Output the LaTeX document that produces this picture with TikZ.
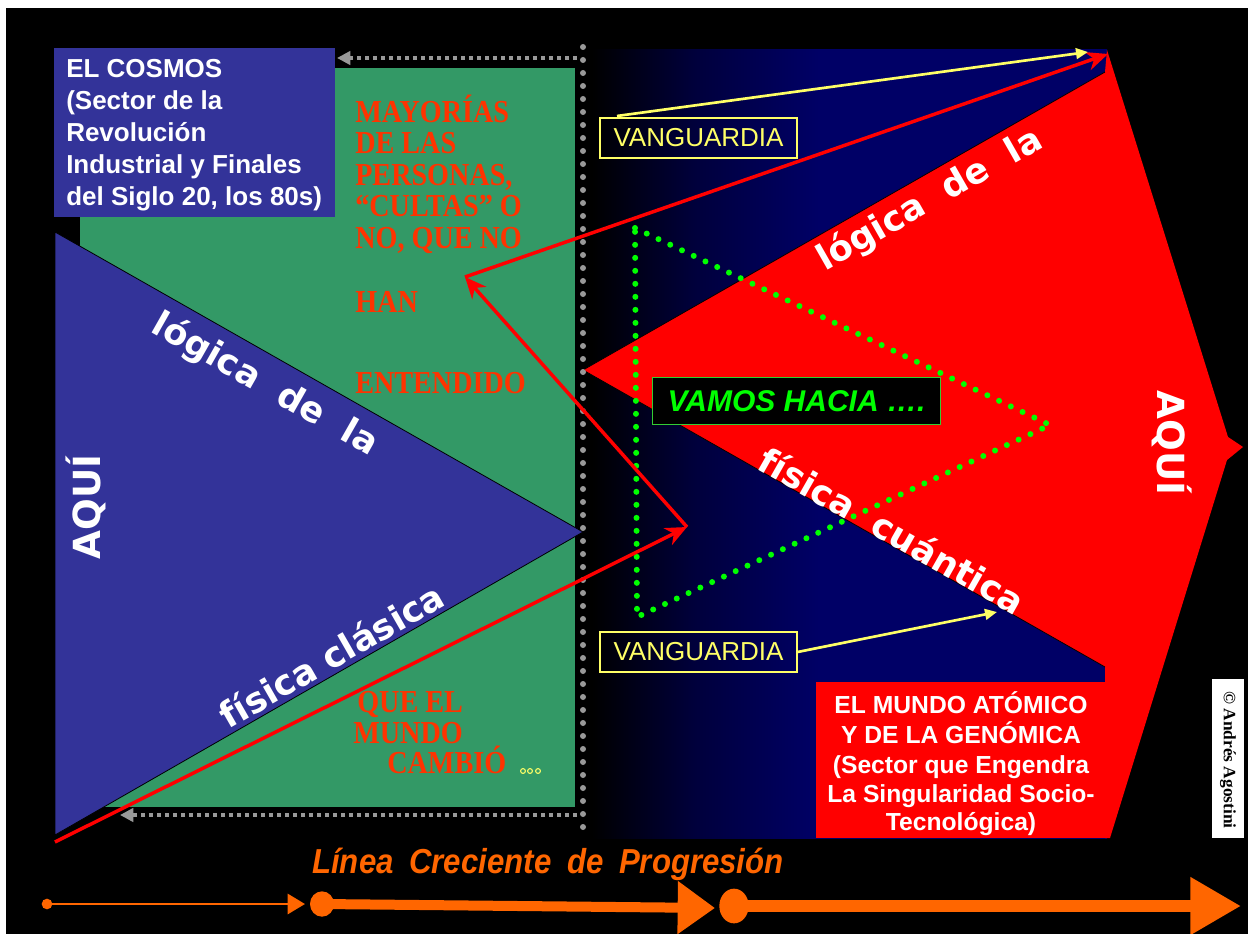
\documentclass[tikz,border=0pt]{standalone}
\usepackage{fontspec}
\usepackage{graphicx}
\setmainfont{Liberation Sans}
\newfontfamily\vfont{DejaVu Sans}
\newfontfamily\serifx{Liberation Serif}
\usetikzlibrary{arrows.meta}
\definecolor{cosmos}{HTML}{333399}
\definecolor{grn}{HTML}{339966}
\definecolor{navy}{HTML}{000066}
\definecolor{midnavy}{HTML}{00003C}
\definecolor{redd}{HTML}{FF0000}
\definecolor{orng}{HTML}{FF6600}
\definecolor{txtred}{HTML}{FF3300}
\definecolor{ylw}{HTML}{FFFF66}
\definecolor{dotgrey}{HTML}{999999}
\definecolor{dotgreen}{HTML}{00FF00}
\definecolor{boxgreen}{HTML}{33CC33}
\pgfdeclarehorizontalshading{navyshade}{100bp}{color(0bp)=(black); color(25bp)=(black); color(35bp)=(midnavy); color(47bp)=(navy); color(100bp)=(navy)}
\newcommand\hsq[1]{\scalebox{0.88}[1]{#1}}
\newcommand\hnar[1]{\scalebox{0.9}[1]{#1}}
\tikzset{
  curl/.style={text=txtred, font=\serifx\bfseries\fontsize{24}{24}\selectfont, anchor=base west, inner sep=0pt},
  rot/.style={text=white, font=\vfont\bfseries\fontsize{26.5}{26}\selectfont, inner sep=0pt},
  cosmostxt/.style={text=white, font=\bfseries\fontsize{19.5}{24}\selectfont, anchor=base west, inner sep=0pt},
  mundotxt/.style={text=white, font=\bfseries\fontsize{18.5}{22}\selectfont, anchor=base, inner sep=0pt},
  vbox/.style={draw=ylw, line width=0.8pt, text=ylw, font=\fontsize{19.5}{20}\selectfont, minimum width=147.75pt, minimum height=30pt, inner sep=0pt},
  redarr/.style={draw=redd, line width=2.6pt, -{Stealth[length=16pt,width=14pt,inset=5pt]}},
  ylwarr/.style={draw=ylw, line width=2pt, -{Triangle[length=9pt,width=8pt]}},
  gdots/.style={dotgreen, line width=4.5pt, line cap=round, dash pattern=on 0pt off 9.75pt},
  greydots/.style={dotgrey, line width=4.5pt, line cap=round, dash pattern=on 0pt off 9.75pt},
  greysq/.style={dotgrey, line width=3pt, dash pattern=on 3pt off 3pt, -{Triangle[length=10pt,width=10pt]}},
}
\begin{document}
\begin{tikzpicture}[x=0.75pt,y=-0.75pt]
\useasboundingbox (0,0) rectangle (1248,934);
\fill[white] (0,0) rectangle (1248,934);
\fill[black] (6,8) rectangle (1248,934);

% left sector
\fill[grn] (80,68) rectangle (575,807);
\fill[cosmos] (54,48) rectangle (335,217);
\filldraw[fill=cosmos, draw=black, line width=0.6pt] (55,232) -- (583,532) -- (55,835) -- cycle;

% right sector
\shade[shading=navyshade] (592,50) rectangle (1107,838);
\fill[redd] (583,370) -- (1105,72) -- (1107,50) -- (1228,437) -- (1243,447) -- (1227,460) -- (1110,838) -- (1105,838) -- (1105,667) -- cycle;
\draw[black, line width=0.6pt] (1105,72) -- (583,370) -- (1105,667);
\fill[redd] (816,682) rectangle (1108,838);

% grey dotted divider and arrows
\draw[greydots] (583,47) -- (583,830);
\coordinate (gt1) at (577,58); \coordinate (gt2) at (337,58);
\coordinate (gb1) at (577,815); \coordinate (gb2) at (120,815);
\draw[greysq] (gt1) -- (gt2);
\draw[greysq] (gb1) -- (gb2);

% green dotted triangle
\coordinate (d1) at (635,228); \coordinate (d2) at (1050,425); \coordinate (d3) at (637,617);
\draw[gdots] (d1) -- (d2) -- (d3) -- cycle;

% boxes
\node[vbox] (v1) at (698.5,138) {VANGUARDIA};
\node[vbox] (v2) at (698.5,652) {VANGUARDIA};
\node[draw=boxgreen, line width=0.8pt, fill=black, minimum width=216pt, minimum height=35.25pt, inner sep=0pt, text=dotgreen, font=\bfseries\itshape\fontsize{22.5}{23}\selectfont] (vamos) at (796.5,401) {VAMOS HACIA ….};

% EL COSMOS text
\node[cosmostxt] (c1) at (66,78) {EL COSMOS};
\node[cosmostxt] (c2) at (66,110) {(Sector de la};
\node[cosmostxt] (c3) at (66,142) {Revolución};
\node[cosmostxt] (c4) at (66,174) {Industrial y Finales};
\node[cosmostxt] (c5) at (66,206) {del Siglo 20, los 80s)};

% EL MUNDO text
\node[mundotxt] (m1) at (961,713) {EL MUNDO ATÓMICO};
\node[mundotxt] (m2) at (961,743) {Y DE LA GENÓMICA};
\node[mundotxt] (m3) at (961,773) {(Sector que Engendra};
\node[mundotxt] (m4) at (961,802) {La Singularidad Socio-};
\node[mundotxt] (m5) at (961,830) {Tecnológica)};

% decorative text in green sector
\node[curl] (g1) at (355,123) {\hsq{MAYORÍAS}};
\node[curl] (g2) at (355,154) {\hsq{DE LAS}};
\node[curl] (g3) at (355,186) {\hsq{PERSONAS,}};
\node[curl] (g4) at (355,217) {\hsq{“CULTAS” O}};
\node[curl] (g5) at (355,248) {\hsq{NO, QUE NO}};
\node[curl] (g6) at (355,312) {\hsq{HAN}};
\node[curl] (g7) at (355,393) {\hsq{ENTENDIDO}};
\node[curl] (g8) at (357,712) {\hsq{QUE EL}};
\node[curl] (g9) at (353,743) {\hsq{MUNDO}};
\node[curl] (g10) at (387,773) {\hsq{CAMBIÓ}};
\foreach \xx in {523,530,538} \draw[ylw, line width=0.8pt] (\xx,771) circle[radius=1.8pt];

% rotated labels
\node[rot, rotate=-29.6] (lg1) at (265,385) {lógica\hspace{0.7em}de\hspace{0.7em}la};
\node[rot, rotate=29.8] (fc1) at (331,655) {física clásica};
\node[rot, rotate=90, font=\vfont\bfseries\fontsize{28}{28}\selectfont] (aq1) at (86,507) {AQUÍ};
\node[rot, rotate=29.7] (lg2) at (930,200) {lógica\hspace{0.7em}de\hspace{0.7em}la};
\node[rot, rotate=-29.6] (fq2) at (892,530) {física\hspace{0.7em}cuántica};
\node[rot, rotate=-90, font=\vfont\bfseries\fontsize{28}{28}\selectfont] (aq2) at (1172,443) {AQUÍ};

% copyright
\fill[white] (1212,679) rectangle (1244,838);
\node[rotate=-90, font=\serifx\bfseries\fontsize{13}{13}\selectfont, text=black, inner sep=0pt] (copy) at (1228,760) {© Andrés Agostini};

% red arrows
\coordinate (r0) at (55,842);
\coordinate (rm) at (687,527);
\coordinate (rl) at (465,277);
\coordinate (rt) at (1108,54);
\draw[redarr] (r0) -- (rm);
\draw[redarr] (rm) -- (rl);
\draw[redarr] (rl) -- (rt);

% yellow arrows
\coordinate (y1s) at (617,116); \coordinate (y1e) at (1088,52);
\coordinate (y2e) at (997,612);
\draw[ylwarr] (y1s) -- (y1e);
\draw[ylwarr] (v2.east) -- (y2e);

% title of progression line
\node[text=orng, font=\bfseries\itshape\fontsize{26}{27}\selectfont, inner sep=0pt] (lin) at (548,864) {\hnar{Línea\hspace{0.5em}Creciente\hspace{0.5em}de\hspace{0.5em}Progresión}};

% orange progression arrows
\coordinate (o1) at (47,904); \coordinate (o1e) at (305,904);
\coordinate (o2) at (322,904); \coordinate (o2e) at (715,908);
\coordinate (o3) at (734,906); \coordinate (o3e) at (1241,906);
\fill[orng] (o1) circle[radius=4pt];
\draw[orng, line width=2.2pt, -{Triangle[length=13pt,width=15pt]}] (o1) -- (o1e);
\fill[orng] (o2) ellipse[x radius=9pt, y radius=9.5pt];
\draw[orng, line width=7.5pt, -{Triangle[length=28pt,width=38pt]}] (o2) -- (o2e);
\fill[orng] (o3) ellipse[x radius=11pt, y radius=13pt];
\draw[orng, line width=9pt, -{Triangle[length=38pt,width=41pt]}] (o3) -- (o3e);
\end{tikzpicture}
\end{document}
